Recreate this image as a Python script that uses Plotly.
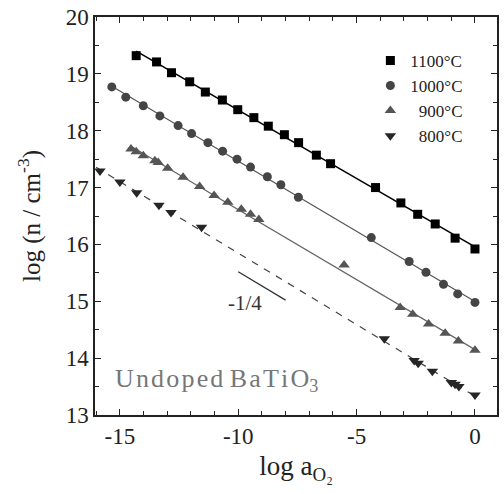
import numpy as np
import plotly.graph_objects as go

# log(oxygen activity) and log(carrier concentration) per anneal temperature
x_1100 = [-14.31, -13.45, -12.82, -12.05, -11.39, -10.67, -10.02, -9.34, -8.73, -8.05,
          -7.45, -6.70, -6.10, -4.20, -3.13, -2.42, -1.68, -0.84, 0.0]
y_1100 = [19.32, 19.21, 19.02, 18.86, 18.68, 18.54, 18.37, 18.23, 18.08, 17.93,
          17.79, 17.57, 17.42, 17.00, 16.73, 16.53, 16.36, 16.11, 15.92]

x_1000 = [-15.34, -14.75, -14.01, -13.31, -12.54, -11.97, -11.28, -10.66, -10.05, -9.48,
          -8.77, -8.20, -7.46, -4.38, -2.78, -2.07, -1.33, -0.73, 0.0]
y_1000 = [18.77, 18.59, 18.44, 18.26, 18.09, 17.95, 17.79, 17.64, 17.50, 17.36,
          17.19, 17.05, 16.83, 16.12, 15.70, 15.51, 15.30, 15.13, 14.98]

x_900 = [-14.53, -14.31, -14.01, -13.52, -13.38, -12.98, -12.33, -11.63, -11.02, -10.44,
         -9.87, -9.48, -9.13, -5.53, -3.16, -2.63, -1.96, -1.26, -0.70, 0.0]
y_900 = [17.68, 17.63, 17.56, 17.47, 17.44, 17.34, 17.18, 17.02, 16.86, 16.74,
         16.62, 16.53, 16.44, 15.64, 14.89, 14.77, 14.60, 14.44, 14.30, 14.14]

x_800 = [-15.84, -15.00, -14.29, -13.35, -12.84, -11.55, -3.83, -2.57, -2.40, -1.80,
         -1.00, -0.84, -0.68, 0.0]
y_800 = [17.29, 17.10, 16.91, 16.69, 16.56, 16.30, 14.34, 13.96, 13.91, 13.77,
         13.57, 13.54, 13.50, 13.35]

labels = ["1100°C", "1000°C", "\u2007900°C", "\u2007800°C"]

x_ticks = [-15, -10, -5, 0]
x_ticktext = ["-15", "-10", "-5", "0"]
y_ticks = [13, 14, 15, 16, 17, 18, 19, 20]

# slope guide
guide_x = [-10.0, -8.0]
guide_y = [15.52, 15.02]

FONT = "Liberation Serif"


def spaced(word):
    """Loosen letter spacing with hair spaces."""
    return "\u200a".join(word)


series = [
    (x_1100, y_1100, labels[0], "square", "#000000", "#000000", "solid", 1.6, None),
    (x_1000, y_1000, labels[1], "circle", "#454545", "#555555", "solid", 1.2, None),
    (x_900, y_900, labels[2], "triangle-up", "#555555", "#666666", "solid", 1.2, None),
    (x_800, y_800, labels[3], "triangle-down", "#262626", "#444444", "7px,7px", 1.2, -16.0),
]

fig = go.Figure()

# least-squares fit lines
for xs, ys, name, sym, mc, lc, dash, lw, xstart in series:
    k, b = np.polyfit(xs, ys, 1)
    x0 = min(xs) if xstart is None else xstart
    xf = np.array([x0, max(xs)])
    fig.add_trace(go.Scatter(x=xf, y=k * xf + b, mode="lines", showlegend=False,
                             line=dict(color=lc, width=lw, dash=dash), hoverinfo="skip"))

sizes = {"square": 9, "circle": 9, "triangle-up": 10, "triangle-down": 10}
for xs, ys, name, sym, mc, lc, dash, lw, xstart in series:
    fig.add_trace(go.Scatter(x=xs, y=ys, mode="markers", name=name,
                             marker=dict(symbol=sym, size=sizes[sym], color=mc,
                                         line=dict(width=0)),
                             cliponaxis=False))

fig.add_trace(go.Scatter(x=guide_x, y=guide_y, mode="lines", showlegend=False,
                         line=dict(color="#333333", width=1.3), hoverinfo="skip"))

fig.add_annotation(x=-9.7, y=14.97, text="-1/4", showarrow=False, xref="x", yref="y",
                   font=dict(family=FONT, size=21, color="#333333"))
fig.add_annotation(x=-15.3, y=13.62,
                   text=spaced("Undoped") + " " + spaced("BaTiO") + "<sub>3</sub>",
                   showarrow=False, xref="x", yref="y", xanchor="left",
                   font=dict(family=FONT, size=26, color="#777777"))

axis_common = dict(showline=True, linecolor="#222222", linewidth=1.5, mirror="allticks",
                   ticks="inside", ticklen=6, tickwidth=1.3, tickcolor="#222222",
                   showgrid=False, zeroline=False,
                   tickfont=dict(family=FONT, size=23, color="#222222"))

fig.update_xaxes(range=[-16.05, 0.93], tickvals=x_ticks, ticktext=x_ticktext,
                 minor=dict(dtick=1, tick0=0, ticks="inside", ticklen=4, tickcolor="#222222",
                            tickwidth=1.2),
                 title=dict(text="log a<sub>O₂</sub>", font=dict(family=FONT, size=27, color="#222222"),
                            standoff=8),
                 **axis_common)
fig.update_yaxes(range=[13, 20], tickvals=y_ticks,
                 minor=dict(dtick=0.5, tick0=0, ticks="inside", ticklen=4, tickcolor="#222222",
                            tickwidth=1.2),
                 title=dict(text="log (n / cm<sup>-3</sup>)",
                            font=dict(family=FONT, size=25, color="#222222"), standoff=18),
                 **axis_common)

fig.update_layout(
    width=504, height=494,
    margin=dict(l=95, r=5, t=13, b=79),
    plot_bgcolor="white", paper_bgcolor="white",
    legend=dict(x=0.685, y=0.935, xanchor="left", yanchor="top",
                font=dict(family=FONT, size=17, color="#222222"),
                bgcolor="rgba(0,0,0,0)", itemwidth=30, tracegroupgap=0),
    showlegend=True,
)

fig.write_html("out.html")
